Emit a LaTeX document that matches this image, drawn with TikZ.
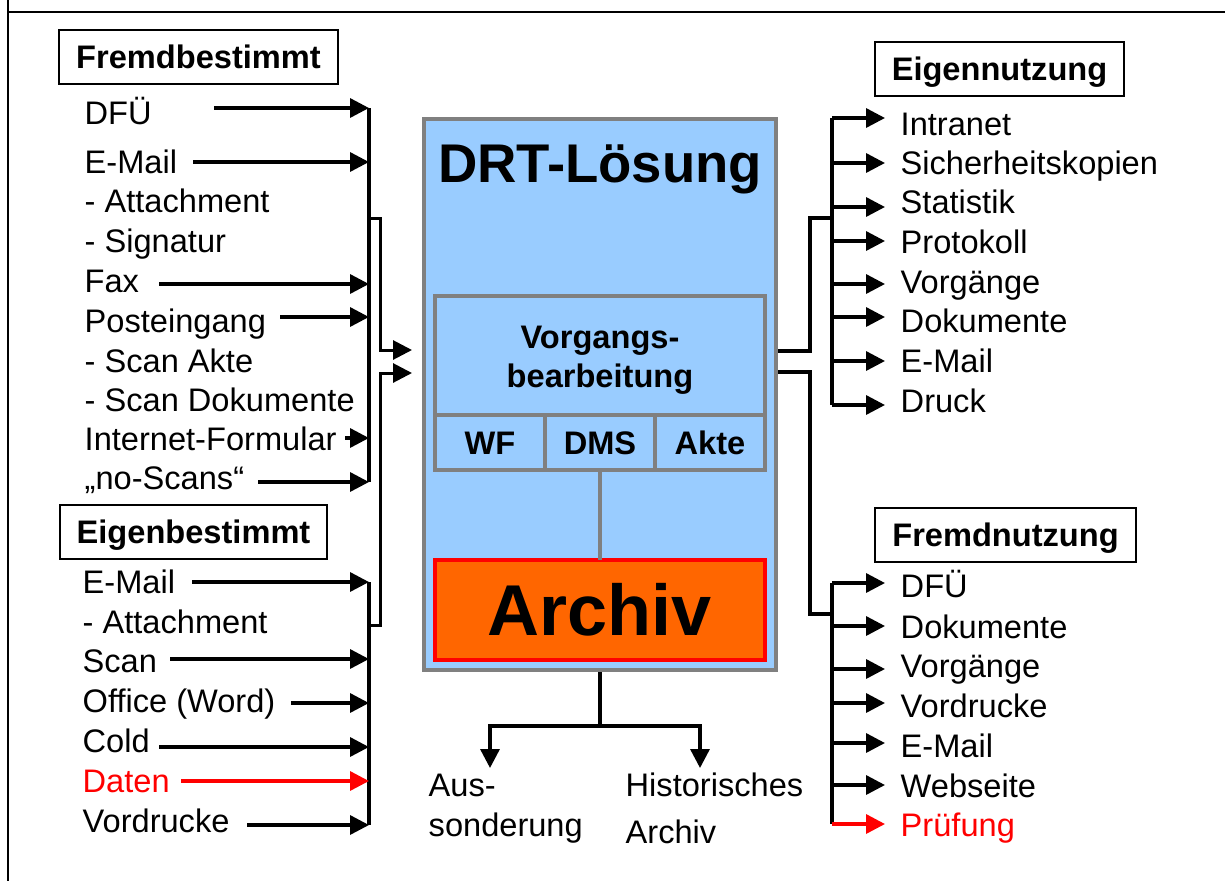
\documentclass[tikz,border=0pt]{standalone}
\usepackage{fontspec}
\setmainfont{Liberation Sans}
\usetikzlibrary{arrows.meta}
\definecolor{drtblue}{HTML}{99CCFF}
\definecolor{boxgrey}{HTML}{808080}
\definecolor{archivorange}{HTML}{FF6600}
\definecolor{hotred}{HTML}{FF0000}

\begin{document}
\begin{tikzpicture}[x=1pt, y=-1pt, line width=3.4pt, >={Triangle[length=19pt,width=19pt]}]
\tikzstyle{entry} = [anchor=base west, inner sep=0pt, font=\fontsize{32.6}{40}\selectfont]
\tikzstyle{headbox} = [draw, line width=2pt, inner xsep=17pt, inner ysep=0pt, text height=23pt, text depth=0pt, minimum height=54pt, font=\bfseries\fontsize{32.6}{40}\selectfont]
\tikzstyle{greybox} = [draw=boxgrey, fill=drtblue, line width=4pt, inner sep=0pt, outer sep=0pt]
\tikzstyle{cell} = [greybox, minimum width=110pt, minimum height=55pt, text height=23pt, text depth=0pt, font=\bfseries\fontsize{32.6}{40}\selectfont]
\useasboundingbox (0,0) rectangle (1225,881);
\draw[line width=2pt] (8,0) -- (8,881) (8,12) -- (1225,12);

% DRT-Loesung
\node[greybox, outer sep=2pt, minimum width=352pt, minimum height=551pt] (drt) at (600,394.5) {};
\node[anchor=base, inner sep=0pt, font=\bfseries\fontsize{54.5}{60}\selectfont] (drttitle) at (600,182) {DRT-Lösung};
\node[greybox, minimum width=330pt, minimum height=119pt] (vb) at (600,355.5) {};
\node[anchor=base, inner sep=0pt, align=center, font=\bfseries\fontsize{32.6}{39}\selectfont] (vbtext) at (600,387) {Vorgangs-\\bearbeitung};
\node[cell] (wf) at (490,442.5) {WF};
\node[cell] (dms) at (600,442.5) {DMS};
\node[cell] (akte) at (710,442.5) {Akte};
\node[draw=hotred, fill=archivorange, line width=4.5pt, inner sep=0pt, outer sep=0pt, minimum width=330pt, minimum height=100pt, font=\bfseries\fontsize{72}{80}\selectfont] (archiv) at (600,610) {Archiv};
\draw[boxgrey, line width=4pt] (dms.south) -- (archiv.north);

% Aussonderung / Historisches Archiv
\coordinate (split) at (600,726);
\coordinate (aus-t) at (490,768);
\coordinate (hist-t) at (700,768);
\draw (drt.south) -- (split);
\draw[->] (split) -| (aus-t);
\draw[->] (split) -| (hist-t);
\node[entry, align=left] (aus) at (427,836) {Aus-\\sonderung};
\node[entry, align=left] (hist) at (624,843) {Historisches\\[7pt]Archiv};

% Fremdbestimmt
\node[headbox] (fremdbest) at (198.5,57) {Fremdbestimmt};
\node[entry] (dfu) at (83,124) {DFÜ};
\node[entry] (mail) at (83,173) {E-Mail};
\node[entry] (att) at (83,212) {- Attachment};
\node[entry] (sig) at (83,252) {- Signatur};
\node[entry] (fax) at (83,292) {Fax};
\node[entry] (post) at (83,332) {Posteingang};
\node[entry] (scanakte) at (83,372) {- Scan Akte};
\node[entry] (scandoku) at (83,411) {- Scan Dokumente};
\node[entry] (form) at (83,450) {Internet-Formular};
\node[entry] (noscan) at (83,489) {„no-Scans“};
\coordinate (lbar) at (369,0);
\coordinate (dfu-s) at (214,108);
\coordinate (mail-s) at (193,162);
\coordinate (fax-s) at (159,284);
\coordinate (post-s) at (280,317);
\coordinate (form-s) at (345,438);
\coordinate (noscan-s) at (258,482);
\draw (dfu-s -| lbar) -- (noscan-s -| lbar);
\draw[->] (dfu-s) -- (dfu-s -| lbar);
\draw[->] (mail-s) -- (mail-s -| lbar);
\draw[->] (fax-s) -- (fax-s -| lbar);
\draw[->] (post-s) -- (post-s -| lbar);
\draw[->] (form-s) -- (form-s -| lbar);
\draw[->] (noscan-s) -- (noscan-s -| lbar);
\coordinate (fb-join) at (369,218);
\coordinate (fb-t) at (412,350);
\draw[->, line width=3pt] (fb-join) -- ++(11,0) |- (fb-t);

% Eigenbestimmt
\node[headbox] (eigenbest) at (193.5,532) {Eigenbestimmt};
\node[entry] (mail2) at (81,593) {E-Mail};
\node[entry] (att2) at (81,633) {- Attachment};
\node[entry] (scan) at (81,672) {Scan};
\node[entry] (office) at (81,712) {Office (Word)};
\node[entry] (cold) at (81,752) {Cold};
\node[entry, hotred] (daten) at (81,792) {Daten};
\node[entry] (vordr) at (81,832) {Vordrucke};
\coordinate (mail2-s) at (192,582);
\coordinate (scan-s) at (170,659);
\coordinate (office-s) at (291,703);
\coordinate (cold-s) at (159,747);
\coordinate (daten-s) at (181,781);
\coordinate (vordr-s) at (247,825);
\draw (mail2-s -| lbar) -- (vordr-s -| lbar);
\draw[->] (mail2-s) -- (mail2-s -| lbar);
\draw[->] (scan-s) -- (scan-s -| lbar);
\draw[->] (office-s) -- (office-s -| lbar);
\draw[->] (cold-s) -- (cold-s -| lbar);
\draw[->, hotred] (daten-s) -- (daten-s -| lbar);
\draw[->] (vordr-s) -- (vordr-s -| lbar);
\coordinate (eb-join) at (369,625);
\coordinate (eb-t) at (412,373);
\draw[->, line width=3pt] (eb-join) -- ++(11,0) |- (eb-t);

% Eigennutzung
\node[headbox] (eigennutz) at (999.5,69) {Eigennutzung};
\node[entry] (intra) at (899,135) {Intranet};
\node[entry] (sich) at (899,174) {Sicherheitskopien};
\node[entry] (stat) at (899,213) {Statistik};
\node[entry] (prot) at (899,253) {Protokoll};
\node[entry] (vorg) at (899,293) {Vorgänge};
\node[entry] (doku) at (899,332) {Dokumente};
\node[entry] (mail3) at (899,372) {E-Mail};
\node[entry] (druck) at (899,412) {Druck};
\coordinate (rbar) at (832,0);
\coordinate (intra-t) at (885,118);
\coordinate (sich-t) at (885,163);
\coordinate (stat-t) at (885,207);
\coordinate (prot-t) at (885,241);
\coordinate (vorg-t) at (885,284);
\coordinate (doku-t) at (885,317);
\coordinate (mail3-t) at (885,361);
\coordinate (druck-t) at (885,405);
\coordinate (en-join) at (832,218);
\draw (drt.east |- 0,351) -- ++(32,0) |- (en-join);
\draw (intra-t -| rbar) -- (druck-t -| rbar);
\draw[->] (intra-t -| rbar) -- (intra-t);
\draw[->] (sich-t -| rbar) -- (sich-t);
\draw[->] (stat-t -| rbar) -- (stat-t);
\draw[->] (prot-t -| rbar) -- (prot-t);
\draw[->] (vorg-t -| rbar) -- (vorg-t);
\draw[->] (doku-t -| rbar) -- (doku-t);
\draw[->] (mail3-t -| rbar) -- (mail3-t);
\draw[->] (druck-t -| rbar) -- (druck-t);

% Fremdnutzung
\node[headbox] (fremdnutz) at (1005.5,535) {Fremdnutzung};
\node[entry] (dfu2) at (899,597) {DFÜ};
\node[entry] (doku2) at (899,638) {Dokumente};
\node[entry] (vorg2) at (899,677) {Vorgänge};
\node[entry] (vordr2) at (899,717) {Vordrucke};
\node[entry] (mail4) at (899,757) {E-Mail};
\node[entry] (web) at (899,797) {Webseite};
\node[entry, hotred] (pruef) at (899,836) {Prüfung};
\coordinate (dfu2-t) at (885,583);
\coordinate (doku2-t) at (885,626);
\coordinate (vorg2-t) at (885,669);
\coordinate (vordr2-t) at (885,703);
\coordinate (mail4-t) at (885,743);
\coordinate (web-t) at (885,785);
\coordinate (pruef-t) at (885,824);
\coordinate (fn-join) at (832,614);
\draw (drt.east |- 0,372) -- ++(32,0) |- (fn-join);
\draw (dfu2-t -| rbar) -- (pruef-t -| rbar);
\draw[->] (dfu2-t -| rbar) -- (dfu2-t);
\draw[->] (doku2-t -| rbar) -- (doku2-t);
\draw[->] (vorg2-t -| rbar) -- (vorg2-t);
\draw[->] (vordr2-t -| rbar) -- (vordr2-t);
\draw[->] (mail4-t -| rbar) -- (mail4-t);
\draw[->] (web-t -| rbar) -- (web-t);
\draw[->, hotred] (pruef-t -| rbar) -- (pruef-t);
\end{tikzpicture}
\end{document}
